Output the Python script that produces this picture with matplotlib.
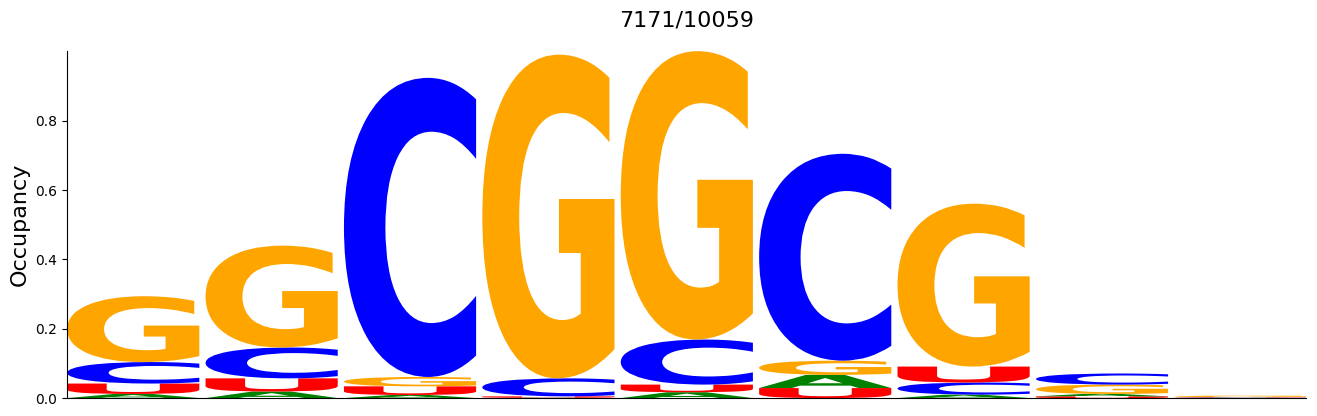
import numpy as np
import matplotlib
matplotlib.use('Agg')
import matplotlib.pyplot as plt
from matplotlib.textpath import TextPath
from matplotlib.patches import PathPatch
from matplotlib.font_manager import FontProperties
from matplotlib.transforms import Affine2D

# Occupancy per position for each base
positions = list(range(9))
occ_A = [0.012, 0.019, 0.009, 0.001, 0.017, 0.038, 0.010, 0.007, 0.001]
occ_C = [0.062, 0.089, 0.863, 0.052, 0.130, 0.597, 0.035, 0.032, 0.001]
occ_G = [0.190, 0.294, 0.027, 0.934, 0.832, 0.041, 0.470, 0.027, 0.004]
occ_U = [0.030, 0.038, 0.025, 0.004, 0.022, 0.029, 0.046, 0.005, 0.001]

letters = ['A', 'C', 'G', 'U']
colors = {'A': 'green', 'C': 'blue', 'G': 'orange', 'U': 'red'}
title = '7171/10059'

font = FontProperties(family='DejaVu Sans', weight='bold')
glyph_width = 0.955


def draw_letter(ax, char, x, y0, height, color):
    path = TextPath((0, 0), char, size=1, prop=font)
    ext = path.get_extents()
    sx = glyph_width / ext.width
    sy = height / ext.height
    tr = (Affine2D().translate(-ext.x0, -ext.y0)
          .scale(sx, sy)
          .translate(x - glyph_width / 2, y0))
    patch = PathPatch(tr.transform_path(path), facecolor=color,
                      edgecolor='none', linewidth=0)
    ax.add_patch(patch)


fig = plt.figure(figsize=(13.17, 4.16), dpi=100)
ax = fig.add_axes([0.051, 0.043, 0.941, 0.834])

table = {'A': occ_A, 'C': occ_C, 'G': occ_G, 'U': occ_U}
totals = []
for i, pos in enumerate(positions):
    vals = sorted([(table[l][i], l) for l in letters])
    y = 0.0
    for h, l in vals:
        if h > 0:
            draw_letter(ax, l, pos, y, h, colors[l])
        y += h
    totals.append(y)

ax.set_xlim(positions[0] - glyph_width / 2, positions[-1] + glyph_width / 2)
ax.set_ylim(0, max(totals))
ax.set_xticks([])
ax.set_yticks([0.0, 0.2, 0.4, 0.6, 0.8])
ax.set_ylabel('Occupancy', fontsize=16)
ax.spines['top'].set_visible(False)
ax.spines['right'].set_visible(False)
ax.set_title(title, fontsize=16, pad=18)

fig.savefig('out.png', dpi=100)
